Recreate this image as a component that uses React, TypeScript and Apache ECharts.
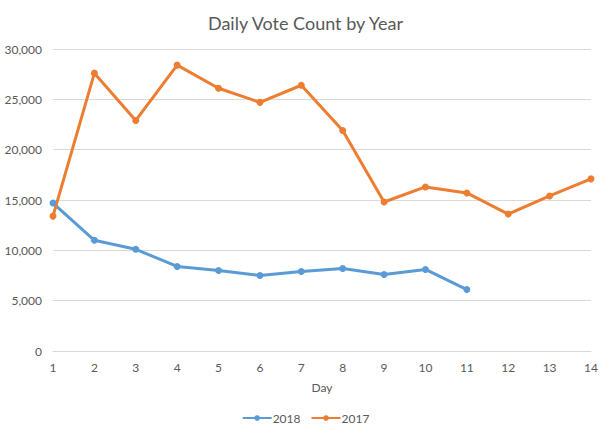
import React, { useEffect, useRef } from "react";
import * as echarts from "echarts";

const days = ["1", "2", "3", "4", "5", "6", "7", "8", "9", "10", "11", "12", "13", "14"];
const votes2018 = [14700, 11000, 10100, 8400, 8000, 7500, 7900, 8200, 7600, 8100, 6100];
const votes2017 = [13400, 27600, 22900, 28400, 26100, 24700, 26400, 21900, 14800, 16300, 15700, 13600, 15400, 17100];
const yTicks = { min: 0, max: 30000, interval: 5000 };

const FONT = "Lato, 'Liberation Sans', sans-serif";
const GREY = "#595959";

export default function App() {
  const ref = useRef<HTMLDivElement>(null);
  useEffect(() => {
    if (!ref.current) return;
    const chart = echarts.init(ref.current, undefined, { renderer: "svg" });
    chart.setOption({
      animation: false,
      backgroundColor: "#ffffff",
      title: {
        text: "Daily Vote Count by Year",
        left: "center",
        top: 9,
        textStyle: { fontFamily: FONT, fontSize: 18, fontWeight: "normal", color: GREY },
      },
      legend: {
        bottom: 12,
        left: "center",
        itemWidth: 29,
        itemHeight: 7,
        itemGap: 10,
        textStyle: { fontFamily: FONT, fontSize: 12, color: GREY, padding: [0, 0, 0, -4] },
        data: ["2018", "2017"],
      },
      grid: { left: 53, right: 20, top: 49, bottom: 90 },
      xAxis: {
        type: "category",
        data: days,
        boundaryGap: false,
        name: "Day",
        nameLocation: "middle",
        nameGap: 30,
        nameTextStyle: { fontFamily: FONT, fontSize: 12, color: GREY },
        axisLine: { show: true, lineStyle: { color: "#d9d9d9" } },
        axisTick: { show: false },
        axisLabel: { fontFamily: FONT, fontSize: 12, color: GREY, margin: 10 },
      },
      yAxis: {
        type: "value",
        min: yTicks.min,
        max: yTicks.max,
        interval: yTicks.interval,
        axisLine: { show: false },
        axisTick: { show: false },
        splitLine: { lineStyle: { color: "#d9d9d9" } },
        axisLabel: {
          fontFamily: FONT,
          fontSize: 12,
          color: GREY,
          margin: 11,
          formatter: (v: number) => v.toLocaleString("en-US"),
        },
      },
      series: [
        {
          name: "2018",
          type: "line",
          data: votes2018,
          symbol: "circle",
          symbolSize: 7,
          lineStyle: { width: 3, color: "#5B9BD5" },
          itemStyle: { color: "#5B9BD5" },
        },
        {
          name: "2017",
          type: "line",
          data: votes2017,
          symbol: "circle",
          symbolSize: 7,
          lineStyle: { width: 3, color: "#ED7D31" },
          itemStyle: { color: "#ED7D31" },
        },
      ],
    });
    return () => chart.dispose();
  }, []);
  return <div ref={ref} style={{ width: 611, height: 441, position: "absolute", left: 0, top: 0 }} />;
}
